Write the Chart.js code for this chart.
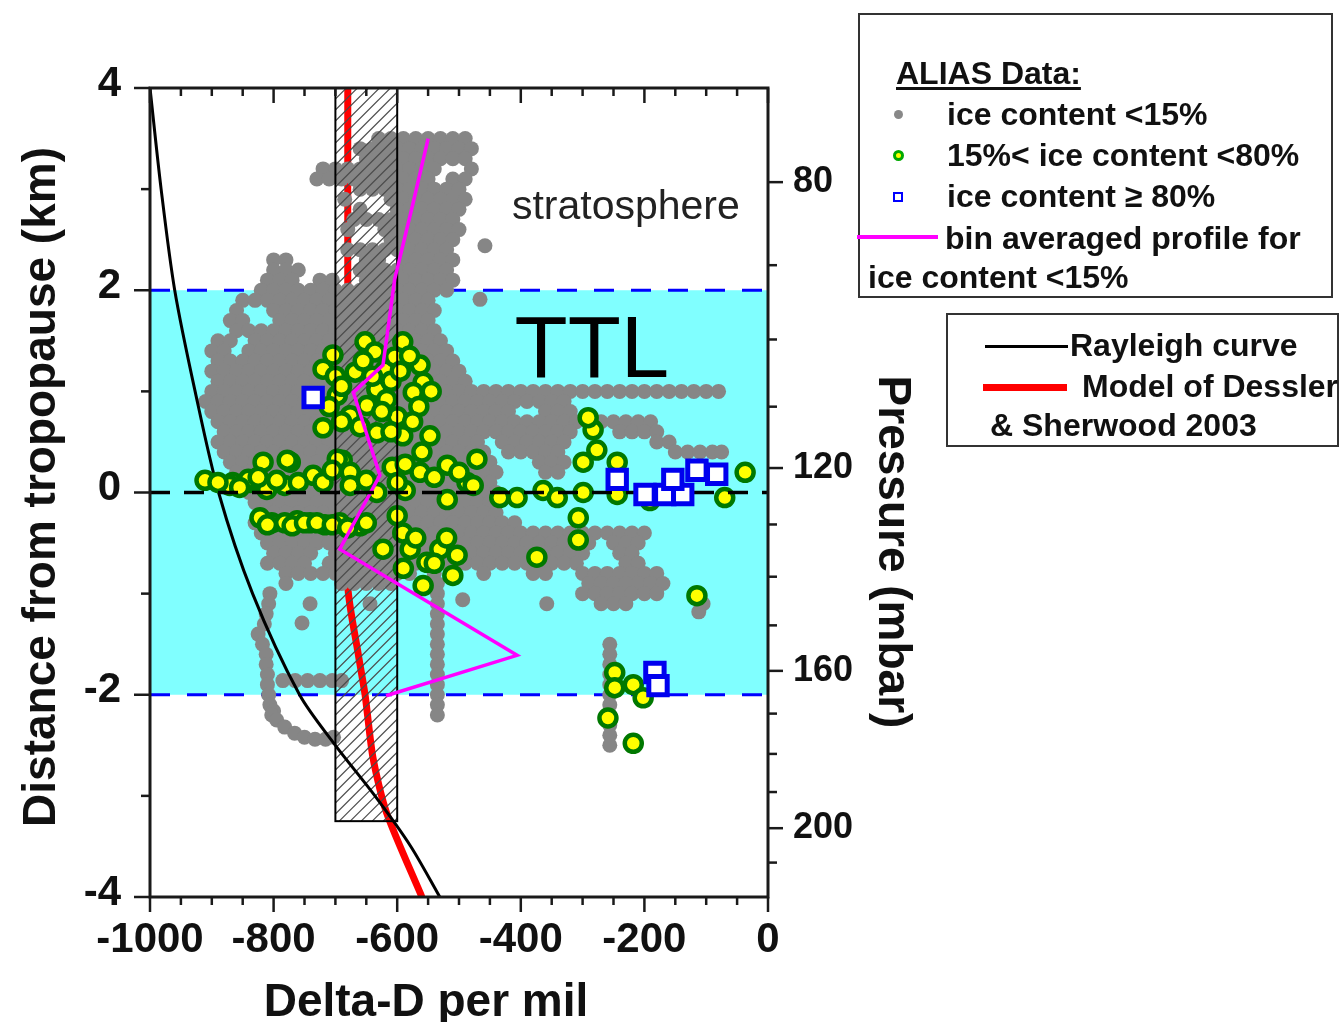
<!DOCTYPE html>
<html><head><meta charset="utf-8">
<script src="https://cdn.jsdelivr.net/npm/chart.js@4.4.1/dist/chart.umd.min.js"></script>
<style>
html,body{margin:0;padding:0;background:#fff;}
#wrap{position:relative;width:1340px;height:1022px;overflow:hidden;font-family:'Liberation Sans',Arial,sans-serif;}
canvas{position:absolute;left:0;top:0;}
.box{position:absolute;border:2.5px solid #333;box-sizing:border-box;}
.t{position:absolute;font-weight:bold;font-size:32px;line-height:32px;white-space:nowrap;color:#111;}
.m{position:absolute;box-sizing:border-box;}
</style></head>
<body><div id="wrap">
<canvas id="c" width="1340" height="1022"></canvas>
<div class="box" style="left:858px;top:13px;width:475px;height:285px"></div>
<div class="t" style="left:896px;top:57px;text-decoration:underline;text-decoration-thickness:3px;text-underline-offset:3px">ALIAS Data:</div>
<div class="m" style="left:894px;top:110px;width:9px;height:9px;border-radius:50%;background:#888"></div>
<div class="t" style="left:947px;top:98px">ice content &lt;15%</div>
<div class="m" style="left:893px;top:150px;width:11px;height:11px;border-radius:50%;background:#ff0;border:3px solid #0a0"></div>
<div class="t" style="left:947px;top:139px">15%&lt; ice content &lt;80%</div>
<div class="m" style="left:893px;top:192px;width:10px;height:10px;background:#fff;border:2.5px solid #00f"></div>
<div class="t" style="left:947px;top:180px">ice content ≥ 80%</div>
<div class="m" style="left:857px;top:235px;width:81px;height:4px;background:#f0f"></div>
<div class="t" style="left:945px;top:222px">bin averaged profile for</div>
<div class="t" style="left:868px;top:261px">ice content &lt;15%</div>
<div class="box" style="left:946px;top:313px;width:393px;height:134px"></div>
<div class="m" style="left:985px;top:345px;width:83px;height:3px;background:#000"></div>
<div class="t" style="left:1070px;top:329px">Rayleigh curve</div>
<div class="m" style="left:983px;top:384px;width:84px;height:7px;background:#f00"></div>
<div class="t" style="left:1082px;top:370px">Model of Dessler</div>
<div class="t" style="left:990px;top:409px">&amp; Sherwood 2003</div>
</div>
<script>
// ---------- axis ticks ----------
const xTickLabels = [-1000,-800,-600,-400,-200,0];
const xMinorTicks = [-950,-900,-850,-750,-700,-650,-550,-500,-450,-350,-300,-250,-150,-100,-50];
const yTickLabels = [4,2,0,-2,-4];
const yMinorTicks = [3,1,-1,-3];
const pTickLabels = [80,120,160,200];
const pMinorTicks = [90,100,110,130,140,150,170,180,190,210];
const xRange = [-1000,0];
const yRange = [-4,4];
const pRange = [70,220.5];
// ---------- regions ----------
const ttlBounds = [-2,2];
const tropopause = [0,0];
const hatchBoxX = [-700,-600];
const hatchBoxY = [-3.25,4];
// ---------- curves (depth km, delta-D per mil) ----------
const rayleighDepth = [4,3,2,1,0,-1,-2,-2.5,-3,-3.5,-4];
const rayleighDeltaD = [-1000,-982,-960,-927,-889,-834,-758,-700,-636,-578,-531];
const desslerDepth = [4,1,-0.92,-1.6,-2.0,-2.63,-3.17,-4];
const desslerDeltaD = [-680,-680,-680,-663,-652,-639,-617,-560];
const profileDepth = [3.5,2.87,2.11,1.75,1.26,0.99,0.17,-0.56,-1.61,-2.01];
const profileDeltaD = [-550,-574,-604,-612,-623,-671,-628,-693,-406,-618];
// ---------- ALIAS data: ice content >= 80% [deltaD, depth] ----------
const bluePts = [[-736,0.94],[-244,0.13],[-199,-0.02],[-167,-0.02],[-138,-0.02],[-154,0.13],[-115,0.22],[-83,0.18],[-183,-1.78],[-178,-1.91]];
// ---------- ALIAS data: 15% < ice content < 80% [deltaD, depth] ----------
const greenPts = [[-704,1.36],[-720,1.22],[-652,1.49],[-636,1.39],[-591,1.49],[-563,1.26],[-558,1.09],[-574,0.99],[-620,1.21],[-633,1.02],
[-649,0.86],[-697,0.96],[-676,0.76],[-617,0.92],[-720,0.64],[-633,0.59],[-591,0.56],[-547,0.56],[-668,1.19],[-604,1.34],
[-817,0.30],[-773,0.30],[-866,0.10],[-838,0.10],[-811,0.03],[-782,0.07],[-736,0.17],[-689,0.32],[-676,0.20],[-676,0.07],
[-633,0.00],[-608,0.25],[-587,0.28],[-563,0.20],[-519,0.27],[-487,0.10],[-587,0.02],[-519,-0.07],[-911,0.12],[-871,0.07],
[-841,0.13],[-778,0.32],[-697,0.33],[-471,0.33],[-477,0.07],[-434,-0.05],[-406,-0.05],[-364,0.02],[-341,-0.05],[-299,0.00],
[-299,0.30],[-277,0.42],[-283,0.62],[-291,0.74],[-244,0.30],[-244,-0.02],[-191,-0.08],[-70,-0.05],[-37,0.20],[-803,-0.30],
[-741,-0.30],[-660,-0.33],[-600,-0.23],[-591,-0.40],[-623,-0.56],[-579,-0.56],[-531,-0.56],[-503,-0.62],[-552,-0.69],[-510,-0.82],
[-558,-0.92],[-307,-0.25],[-307,-0.47],[-374,-0.64],[-115,-1.02],[-782,-0.30],[-762,-0.28],[-717,-0.32],[-693,-0.30],[-822,-0.25],
[-248,-1.78],[-248,-1.93],[-218,-1.90],[-202,-2.03],[-259,-2.23],[-218,-2.48],
[-700,1.15],[-690,1.05],[-655,1.30],[-640,1.15],[-610,1.10],[-595,1.20],[-580,1.35],[-565,0.85],[-600,0.75],[-625,0.80],
[-660,0.65],[-690,0.70],[-575,0.70],[-610,0.60],[-545,1.00],[-710,0.85],
[-890,0.10],[-855,0.05],[-825,0.15],[-795,0.12],[-760,0.10],[-720,0.10],[-705,0.22],
[-810,-0.32],[-770,-0.33],[-750,-0.30],[-730,-0.30],[-705,-0.32],[-680,-0.35],[-650,-0.30],
[-570,-0.45],[-540,-0.70],[-520,-0.45],[-590,-0.75],
[-560,0.40],[-540,0.15],[-500,0.20],[-600,0.10],[-650,0.12]];
// ---------- ALIAS data: ice content < 15%, rows of [depth, [deltaD...]] ----------
const grayRows = [
[3.5,[-630,-610,-590,-570,-550,-530,-510,-490]],
[3.4,[-660,-640,-620,-600,-580,-560,-540,-520,-500,-480]],
[3.3,[-650,-630,-610,-590,-570,-550,-530,-510,-490]],
[3.2,[-720,-700,-680,-660,-640,-620,-600,-580,-560,-540,-480]],
[3.1,[-730,-710,-690,-670,-650,-630,-610,-590,-570,-550,-510,-490]],
[3.0,[-660,-640,-620,-600,-580,-560,-540,-520,-500]],
[2.9,[-685,-610,-590,-570,-550,-530,-510,-490]],
[2.8,[-660,-600,-580,-560,-540,-520,-500]],
[2.7,[-670,-650,-630,-610,-590,-570,-550,-530,-510]],
[2.6,[-680,-620,-600,-580,-560,-540,-520,-500]],
[2.5,[-610,-590,-570,-550,-530,-510]],
[2.44,[-458]],
[2.4,[-680,-660,-640,-620,-600,-580,-560,-540,-520]],
[2.3,[-800,-780,-650,-630,-590,-570,-550,-530,-510]],
[2.2,[-800,-780,-760,-660,-640,-620,-600,-580,-560,-540,-520]],
[2.1,[-810,-790,-770,-725,-705,-650,-630,-610,-590,-570,-550,-530,-510]],
[2.0,[-820,-800,-780,-760,-740,-720,-700,-680,-660,-640,-620,-600,-580,-560,-540,-520]],
[1.91,[-466]],
[1.9,[-850,-830,-810,-790,-770,-750,-730,-710,-690,-670,-650,-630,-610,-590,-570,-550]],
[1.8,[-860,-800,-780,-760,-740,-720,-700,-680,-660,-640,-620,-600,-580,-560,-540]],
[1.7,[-870,-850,-790,-770,-750,-730,-710,-690,-670,-650,-630,-610,-590,-570,-550]],
[1.6,[-860,-840,-820,-800,-780,-760,-740,-720,-700,-680,-660,-640,-620,-600,-580,-560,-540]],
[1.5,[-890,-870,-830,-810,-790,-770,-750,-730,-710,-690,-670,-650,-630,-610,-590,-570,-550,-530]],
[1.4,[-900,-880,-840,-820,-800,-780,-760,-740,-720,-700,-680,-660,-640,-620,-600,-580,-560,-540,-520]],
[1.3,[-890,-870,-850,-830,-810,-790,-770,-750,-730,-710,-690,-670,-650,-630,-610,-590,-570,-550,-530,-510]],
[1.2,[-900,-880,-860,-840,-820,-800,-780,-760,-740,-720,-700,-680,-660,-640,-620,-600,-580,-560,-540,-520,-500]],
[1.1,[-890,-870,-850,-830,-810,-790,-770,-750,-730,-710,-690,-670,-650,-630,-610,-590,-570,-550,-530,-510,-490]],
[1.0,[-900,-880,-860,-840,-820,-800,-780,-760,-740,-720,-700,-680,-660,-640,-620,-600,-580,-560,-540,-520,-500,-480,-460,-440,-420,-400,-380,-360,-340,-320,-300,-280,-260,-240,-220,-200,-180,-160,-140,-120,-100,-80]],
[0.9,[-910,-890,-870,-850,-830,-810,-790,-770,-750,-730,-710,-690,-670,-650,-630,-610,-590,-570,-550,-530,-510,-490,-470,-450,-430,-410,-390,-370,-350,-330]],
[0.8,[-900,-880,-860,-840,-820,-800,-780,-760,-740,-720,-700,-680,-660,-640,-620,-600,-580,-560,-540,-520,-500,-480,-460,-440,-420,-360,-340,-320]],
[0.7,[-890,-870,-850,-830,-810,-790,-770,-750,-730,-710,-690,-670,-650,-630,-610,-590,-570,-550,-530,-510,-490,-470,-450,-430,-410,-390,-370,-350,-330,-310,-290,-270,-250,-230,-210,-190]],
[0.6,[-880,-860,-840,-820,-800,-780,-760,-740,-720,-700,-680,-660,-640,-620,-600,-580,-560,-540,-520,-500,-480,-460,-440,-420,-400,-380,-360,-340,-320,-240,-220,-200,-180]],
[0.5,[-890,-870,-850,-830,-810,-790,-770,-750,-730,-710,-690,-670,-650,-630,-610,-590,-570,-550,-530,-510,-490,-470,-430,-410,-390,-370,-350,-330,-180,-160]],
[0.4,[-880,-860,-840,-820,-800,-780,-760,-740,-720,-700,-680,-660,-640,-620,-600,-580,-560,-540,-520,-500,-480,-460,-420,-400,-380,-360,-340,-150,-130,-110,-90,-75]],
[0.3,[-870,-850,-830,-810,-790,-770,-750,-730,-710,-690,-670,-650,-630,-610,-590,-570,-550,-530,-510,-490,-470,-450,-370,-350,-330]],
[0.2,[-860,-840,-820,-800,-780,-760,-740,-720,-700,-680,-660,-640,-620,-600,-580,-560,-540,-520,-500,-480,-460,-440,-360,-340]],
[0.1,[-850,-830,-810,-790,-770,-750,-730,-710,-690,-670,-650,-630,-610,-590,-570,-550,-530,-510,-490,-470,-450]],
[0.0,[-840,-820,-800,-780,-760,-740,-720,-700,-680,-660,-640,-620,-600,-580,-560,-540,-520,-500,-480,-460,-440]],
[-0.1,[-830,-810,-790,-770,-750,-730,-710,-690,-670,-650,-630,-610,-590,-570,-550,-530,-510,-490,-470,-450]],
[-0.2,[-820,-800,-780,-760,-740,-720,-700,-680,-660,-640,-620,-600,-580,-560,-540,-520,-500,-480,-460,-440]],
[-0.3,[-830,-810,-790,-770,-750,-730,-710,-690,-670,-650,-630,-610,-590,-570,-550,-530,-510,-490,-470,-450,-430,-410]],
[-0.4,[-820,-800,-780,-760,-740,-720,-700,-680,-660,-640,-620,-600,-580,-560,-540,-520,-500,-480,-460,-440,-420,-400,-380,-360,-340,-320,-300,-280,-260,-240,-220,-200]],
[-0.5,[-810,-790,-770,-750,-730,-710,-690,-670,-650,-630,-610,-590,-570,-550,-530,-510,-490,-470,-450,-430,-410,-390,-370,-350,-330,-310,-290,-250,-230,-210]],
[-0.6,[-800,-780,-760,-740,-700,-680,-660,-640,-620,-600,-580,-560,-540,-520,-500,-480,-460,-440,-420,-400,-380,-360,-340,-320,-300,-240,-220]],
[-0.7,[-810,-790,-770,-750,-710,-690,-670,-650,-630,-610,-590,-570,-550,-530,-510,-490,-470,-450,-430,-410,-390,-370,-350,-330,-310,-230,-210]],
[-0.8,[-780,-760,-740,-720,-700,-680,-660,-640,-620,-600,-580,-540,-460,-380,-360,-300,-280,-260,-240,-220,-200,-180]],
[-0.9,[-780,-690,-670,-650,-630,-610,-535,-290,-270,-250,-230,-210,-190,-170]],
[-1.0,[-806,-535,-300,-280,-260,-240,-220,-200,-180,-115]],
[-1.06,[-494]],
[-1.1,[-808,-741,-644,-535,-358,-270,-250,-230,-105]],
[-1.18,[-112]],
[-1.2,[-812,-535]],
[-1.29,[-754]],
[-1.3,[-815,-535]],
[-1.4,[-825,-535]],
[-1.5,[-818,-535,-256]],
[-1.6,[-812,-535,-256]],
[-1.7,[-812,-535,-256]],
[-1.8,[-810,-535,-256]],
[-1.86,[-785,-765,-745,-725,-705,-690]],
[-1.9,[-810,-535,-256]],
[-2.0,[-808,-535,-256]],
[-2.1,[-806,-535,-256]],
[-2.16,[-800]],
[-2.2,[-803,-535,-256]],
[-2.25,[-795]],
[-2.3,[-256]],
[-2.32,[-782]],
[-2.38,[-766]],
[-2.4,[-256]],
[-2.42,[-750,-703]],
[-2.44,[-733,-716]],
[-2.5,[-256]]
];
// ---------- text labels placed in data space ----------
const regionLabels = [
  {text:'stratosphere', x:-230, y:2.70, size:41, weight:'normal', color:'#222'},
  {text:'TTL', x:-285, y:1.14, size:87, weight:'normal', color:'#000'}
];
const axisTitles = {x:'Delta-D per mil', y:'Distance from tropopause (km)', p:'Pressure (mbar)'};

const FONT = "'Liberation Sans', Arial, sans-serif";
Chart.defaults.font.family = FONT;

const pairPts = arr => arr.map(([x,y]) => ({x, y}));
const toPts = (xs, ys) => xs.map((v,i) => ({x:v, y:ys[i]}));
const grayPts = grayRows.flatMap(([yy, xs]) => xs.map(xx => ({x:xx, y:yy})));

const datasets = [
  {label:'TTL top', data:toPts(xRange,[ttlBounds[1],ttlBounds[1]]), showLine:true, borderColor:'#0000ff', borderWidth:3, borderDash:[20,17], pointRadius:0, order:20},
  {label:'TTL bottom', data:toPts(xRange,[ttlBounds[0],ttlBounds[0]]), showLine:true, borderColor:'#0000ff', borderWidth:3, borderDash:[20,17], pointRadius:0, order:20},
  {label:'Model of Dessler & Sherwood 2003', data:toPts(desslerDeltaD,desslerDepth), showLine:true, borderColor:'#ff0000', borderWidth:7, tension:0.25, pointRadius:0, order:19},
  {label:'ice content <15%', data:grayPts, pointRadius:7.5, pointBackgroundColor:'#868686', pointBorderWidth:0, borderColor:'#868686', backgroundColor:'#868686', order:18},
  {label:'Rayleigh curve', data:toPts(rayleighDeltaD,rayleighDepth), showLine:true, borderColor:'#000', borderWidth:3, tension:0.3, pointRadius:0, order:16},
  {label:'15%< ice content <80%', data:pairPts(greenPts), pointRadius:8.5, pointBackgroundColor:'#ffff00', pointBorderColor:'#007800', pointBorderWidth:4.5, order:15},
  {label:'bin averaged profile for ice content <15%', data:toPts(profileDeltaD,profileDepth), showLine:true, borderColor:'#ff00ff', borderWidth:3.5, pointRadius:0, order:14},
  {label:'tropopause', data:toPts(xRange,tropopause), showLine:true, borderColor:'#000', borderWidth:3.5, borderDash:[20,14], pointRadius:0, order:13},
  {label:'ice content ≥ 80%', data:pairPts(bluePts), pointStyle:'rect', pointRadius:13, pointBackgroundColor:'#ffffff', pointBorderColor:'#0000ee', pointBorderWidth:5, order:12}
];
const GRAY_INDEX = 3, GREEN_INDEX = 5;

function seg(ctx, x1, y1, x2, y2){ ctx.beginPath(); ctx.moveTo(x1,y1); ctx.lineTo(x2,y2); ctx.stroke(); }

const customPlugin = {
  id: 'custom',
  beforeDatasetsDraw(chart) {
    const {ctx, scales:{x, y}} = chart;
    const yt = y.getPixelForValue(ttlBounds[1]), yb = y.getPixelForValue(ttlBounds[0]);
    ctx.save();
    ctx.fillStyle = '#80ffff';
    ctx.fillRect(x.getPixelForValue(xRange[0]), yt, x.getPixelForValue(xRange[1]) - x.getPixelForValue(xRange[0]), yb - yt);
    ctx.restore();
  },
  afterDatasetDraw(chart, args) {
    const {ctx, scales:{x, y}} = chart;
    const l = x.getPixelForValue(hatchBoxX[0]), r = x.getPixelForValue(hatchBoxX[1]);
    const t = y.getPixelForValue(hatchBoxY[1]), b = y.getPixelForValue(hatchBoxY[0]);
    if (args.index === GRAY_INDEX) {
      ctx.save();
      ctx.beginPath(); ctx.rect(l, t, r - l, b - t); ctx.clip();
      ctx.strokeStyle = '#4a4a4a'; ctx.lineWidth = 1.1;
      const h = b - t;
      for (let k = -h; k < (r - l) + 2; k += 11) seg(ctx, l + k, b, l + k + h, t);
      ctx.restore();
    }
    if (args.index === GREEN_INDEX) {
      ctx.save();
      ctx.strokeStyle = '#000'; ctx.lineWidth = 2;
      ctx.strokeRect(l, t, r - l, b - t);
      ctx.restore();
    }
  },
  afterDatasetsDraw(chart) {
    const {ctx, chartArea:a, scales:{x, y, p}} = chart;
    ctx.save();
    ctx.strokeStyle = '#1a1a1a'; ctx.lineWidth = 3;
    ctx.strokeRect(a.left, a.top, a.right - a.left, a.bottom - a.top);
    ctx.lineWidth = 2.5;
    xTickLabels.forEach(v => { const px = x.getPixelForValue(v); seg(ctx, px, a.bottom, px, a.bottom + 15); seg(ctx, px, a.top, px, a.top + 15); });
    xMinorTicks.forEach(v => { const px = x.getPixelForValue(v); seg(ctx, px, a.bottom, px, a.bottom + 8); seg(ctx, px, a.top, px, a.top + 8); });
    yTickLabels.forEach(v => { const py = y.getPixelForValue(v); seg(ctx, a.left - 16, py, a.left, py); });
    yMinorTicks.forEach(v => { const py = y.getPixelForValue(v); seg(ctx, a.left - 9, py, a.left, py); });
    pTickLabels.forEach(v => { const py = p.getPixelForValue(v); seg(ctx, a.right, py, a.right + 15, py); });
    pMinorTicks.forEach(v => { const py = p.getPixelForValue(v); seg(ctx, a.right, py, a.right + 9, py); });
    regionLabels.forEach(lb => {
      ctx.font = `${lb.weight} ${lb.size}px ${FONT}`;
      ctx.fillStyle = lb.color; ctx.textAlign = 'center'; ctx.textBaseline = 'alphabetic';
      ctx.fillText(lb.text, x.getPixelForValue(lb.x), y.getPixelForValue(lb.y));
    });
    ctx.fillStyle = '#111'; ctx.font = `bold 46px ${FONT}`; ctx.textAlign = 'center'; ctx.textBaseline = 'alphabetic';
    ctx.fillText(axisTitles.x, 426, 1016);
    ctx.save(); ctx.translate(55, 487); ctx.rotate(-Math.PI/2); ctx.fillText(axisTitles.y, 0, 0); ctx.restore();
    ctx.save(); ctx.translate(879, 552); ctx.rotate(Math.PI/2); ctx.fillText(axisTitles.p, 0, 0); ctx.restore();
    ctx.restore();
  }
};

new Chart(document.getElementById('c'), {
  type: 'scatter',
  data: { datasets },
  options: {
    responsive: false, animation: false, devicePixelRatio: 1, events: [],
    layout: { padding: { top: 88, left: 0, right: 472, bottom: 0 } },
    plugins: { legend: { display: false }, tooltip: { enabled: false } },
    scales: {
      x: {
        type: 'linear', position: 'bottom', min: xRange[0], max: xRange[1],
        afterBuildTicks: s => { s.ticks = xTickLabels.map(v => ({value: v})); },
        afterFit: s => { s.height = 125; },
        grid: { display: false, drawTicks: false }, border: { display: false },
        ticks: { padding: 18, autoSkip: false, maxRotation: 0, color: '#111', font: { size: 42, weight: 'bold' }, callback: v => String(v) }
      },
      y: {
        type: 'linear', position: 'left', min: yRange[0], max: yRange[1],
        afterBuildTicks: s => { s.ticks = yTickLabels.map(v => ({value: v})); },
        afterFit: s => { s.width = 150; },
        grid: { display: false, drawTicks: false }, border: { display: false },
        ticks: { padding: 29, labelOffset: -4, autoSkip: false, color: '#111', font: { size: 42, weight: 'bold' }, callback: v => String(v) }
      },
      p: {
        type: 'logarithmic', position: 'right', reverse: true, min: pRange[0], max: pRange[1],
        afterBuildTicks: s => { s.ticks = pTickLabels.map(v => ({value: v})); },
        afterFit: s => { s.width = 100; },
        grid: { display: false, drawTicks: false }, border: { display: false },
        ticks: { padding: 25, autoSkip: false, color: '#111', font: { size: 36, weight: 'bold' }, callback: v => String(v) }
      }
    }
  },
  plugins: [customPlugin]
});
</script>
</body></html>
